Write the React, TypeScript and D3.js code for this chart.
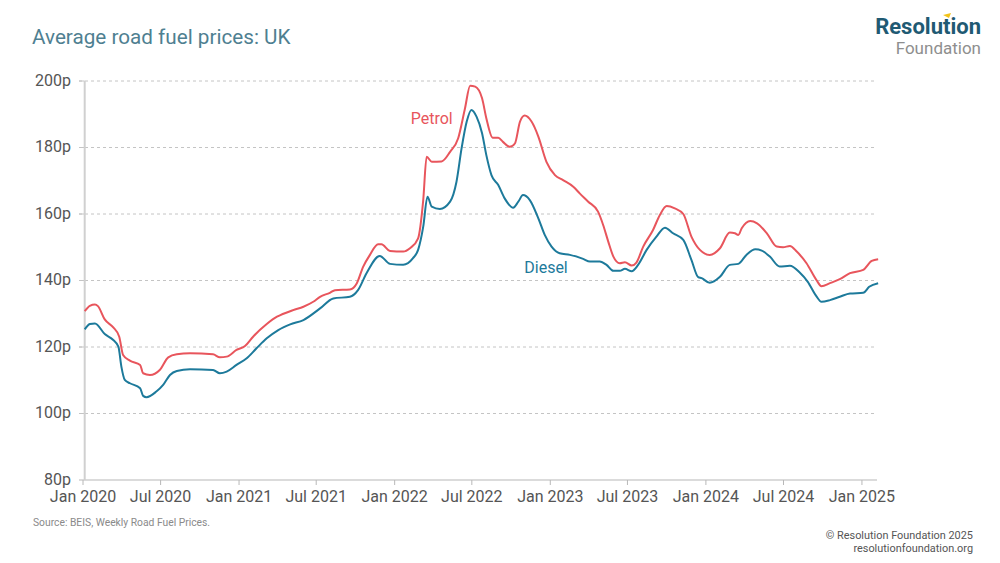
import React from "react";
import * as d3 from "d3";

const petrolData: [string, number][] = [
  ["2020-01-05",130.8],["2020-01-17",132.4],["2020-01-29",132.8],["2020-02-05",132.3],
  ["2020-02-21",128.3],["2020-03-12",125.9],["2020-03-26",123.1],["2020-04-04",117.6],
  ["2020-04-20",115.9],["2020-05-14",114.6],["2020-05-21",112.1],["2020-06-06",111.6],
  ["2020-06-29",113.1],["2020-07-19",116.9],["2020-08-08",117.8],["2020-09-08",118.1],
  ["2020-11-01",117.8],["2020-11-17",116.9],["2020-12-03",117.1],["2020-12-26",119.1],
  ["2021-01-15",120.3],["2021-02-03",123.1],["2021-03-07",126.9],["2021-03-31",129.1],
  ["2021-04-08",129.6],["2021-05-08",131.1],["2021-06-01",132.1],["2021-06-24",133.6],
  ["2021-07-10",135.1],["2021-08-02",136.3],["2021-08-14",137.1],["2021-09-18",137.3],
  ["2021-10-04",139.1],["2021-10-19",144.1],["2021-11-04",147.7],["2021-11-23",150.9],
  ["2021-12-01",150.9],["2021-12-21",148.9],["2022-01-21",148.7],["2022-02-06",149.7],
  ["2022-02-25",152.7],["2022-03-09",164.2],["2022-03-17",177.2],["2022-03-29",175.7],
  ["2022-04-21",175.8],["2022-05-11",178.7],["2022-05-30",182.8],["2022-06-15",191.8],
  ["2022-06-27",198.6],["2022-07-09",198.3],["2022-07-25",194.8],["2022-08-04",188.8],
  ["2022-08-19",182.9],["2022-09-01",182.9],["2022-09-12",181.7],["2022-09-28",180.2],
  ["2022-10-10",181.2],["2022-10-22",187.8],["2022-11-02",189.6],["2022-11-18",187.8],
  ["2022-12-04",183.3],["2022-12-23",175.7],["2023-01-12",171.7],["2023-01-31",170.2],
  ["2023-02-24",168.2],["2023-03-11",166.2],["2023-03-31",163.7],["2023-04-23",160.7],
  ["2023-05-05",156.7],["2023-05-17",151.7],["2023-05-29",147.2],["2023-06-13",145.2],
  ["2023-06-25",145.5],["2023-07-11",144.5],["2023-07-22",145.4],["2023-08-07",150.2],
  ["2023-08-30",155.2],["2023-09-15",159.7],["2023-10-01",162.4],["2023-10-20",161.7],
  ["2023-11-09",160.0],["2023-11-28",153.2],["2023-12-18",149.2],["2024-01-10",147.7],
  ["2024-02-03",149.7],["2024-02-26",154.4],["2024-03-09",154.2],["2024-03-17",153.7],
  ["2024-03-25",155.7],["2024-04-14",157.9],["2024-04-30",157.2],["2024-05-23",154.2],
  ["2024-06-15",150.2],["2024-06-30",150.0],["2024-07-16",150.4],["2024-08-01",148.7],
  ["2024-08-24",145.2],["2024-09-16",140.2],["2024-09-28",138.3],["2024-10-18",139.2],
  ["2024-11-10",140.4],["2024-12-04",142.2],["2025-01-04",143.2],["2025-01-24",145.9],
  ["2025-02-08",146.4],
];

const dieselData: [string, number][] = [
  ["2020-01-05",125.3],["2020-01-17",126.9],["2020-01-29",127.1],["2020-02-21",123.9],
  ["2020-03-12",122.1],["2020-03-24",120.1],["2020-03-31",114.1],["2020-04-08",110.1],
  ["2020-04-20",109.1],["2020-05-14",107.6],["2020-05-21",105.3],["2020-05-29",104.9],
  ["2020-06-21",106.6],["2020-07-07",108.6],["2020-07-23",111.6],["2020-08-08",112.8],
  ["2020-09-08",113.3],["2020-11-01",113.1],["2020-11-17",112.1],["2020-12-03",112.6],
  ["2020-12-26",114.6],["2021-01-19",116.6],["2021-02-11",119.6],["2021-03-07",122.6],
  ["2021-04-03",125.1],["2021-05-01",126.8],["2021-06-01",128.1],["2021-07-10",131.6],
  ["2021-08-10",134.6],["2021-09-18",135.1],["2021-10-07",137.1],["2021-10-27",142.2],
  ["2021-11-27",147.4],["2021-12-21",145.0],["2022-01-21",144.7],["2022-02-13",146.7],
  ["2022-02-25",149.2],["2022-03-09",156.2],["2022-03-19",165.2],["2022-03-29",162.2],
  ["2022-04-17",161.5],["2022-05-11",163.7],["2022-05-26",169.7],["2022-06-07",179.8],
  ["2022-06-19",187.8],["2022-06-30",191.3],["2022-07-12",189.3],["2022-07-25",184.3],
  ["2022-08-04",177.7],["2022-08-16",171.7],["2022-09-01",168.7],["2022-09-16",164.7],
  ["2022-10-06",161.9],["2022-10-18",163.7],["2022-10-29",165.7],["2022-11-14",164.2],
  ["2022-12-04",158.7],["2022-12-19",153.7],["2023-01-04",150.2],["2023-01-23",148.2],
  ["2023-02-16",147.7],["2023-03-19",146.5],["2023-04-04",145.7],["2023-04-27",145.7],
  ["2023-05-13",144.7],["2023-05-29",142.9],["2023-06-13",142.9],["2023-06-25",143.5],
  ["2023-07-11",142.8],["2023-07-26",144.7],["2023-08-15",149.2],["2023-09-07",153.2],
  ["2023-09-27",155.9],["2023-10-16",154.2],["2023-11-09",152.2],["2023-11-28",146.2],
  ["2023-12-14",141.0],["2023-12-22",140.7],["2024-01-10",139.3],["2024-02-03",141.1],
  ["2024-02-26",144.7],["2024-03-17",145.0],["2024-04-05",147.7],["2024-04-26",149.4],
  ["2024-05-11",149.0],["2024-05-30",147.2],["2024-06-22",144.2],["2024-07-16",144.4],
  ["2024-08-08",142.4],["2024-08-27",139.6],["2024-09-16",135.3],["2024-09-28",133.6],
  ["2024-10-18",134.1],["2024-11-10",135.1],["2024-12-04",136.1],["2025-01-04",136.3],
  ["2025-01-18",138.1],["2025-02-08",139.2],
];

const yTicks = [80, 100, 120, 140, 160, 180, 200];
const xTickDates = [
  "2020-01-01","2020-07-01","2021-01-01","2021-07-01","2022-01-01","2022-07-01",
  "2023-01-01","2023-07-01","2024-01-01","2024-07-01","2025-01-01",
];

const PETROL = "#e8555c";
const DIESEL = "#1d7a9b";

const seriesLabels: { name: string; date: string; value: number; color: string }[] = [
  { name: "Petrol", date: "2022-03-29", value: 188.9, color: PETROL },
  { name: "Diesel", date: "2022-12-22", value: 143.8, color: DIESEL },
];

const title = "Average road fuel prices: UK";
const sourceText = "Source: BEIS, Weekly Road Fuel Prices.";

const FONT = "Roboto, 'Noto Sans', sans-serif";

export default function App() {
  const parse = d3.utcParse("%Y-%m-%d");
  const x = d3
    .scaleUtc()
    .domain([parse("2020-01-01")!, parse("2025-02-10")!])
    .range([83, 879]);
  const y = d3.scaleLinear().domain([80, 200]).range([480, 81]);

  const line = d3
    .line<[string, number]>()
    .x((d) => x(parse(d[0])!))
    .y((d) => y(d[1]))
    .curve(d3.curveMonotoneX);

  const fmt = d3.utcFormat("%b %Y");
  const axisX = x(parse(petrolData[0][0])!);

  return (
    <svg
      width={1000}
      height={563}
      style={{ position: "fixed", left: 0, top: 0, background: "#fff" }}
      fontFamily={FONT}
    >
      <rect width={1000} height={563} fill="#fff" />
      {/* title */}
      <text x={32} y={44} fontSize={20.7} fill="#4f7f91">
        {title}
      </text>
      {/* logo */}
      <text x={981} y={34} textAnchor="end" fontSize={22} fontWeight={700} fill="#1f5a73">
        Resolution
      </text>
      <path d="M943,15 L951,13 L949,18 Z" fill="#f2c318" />
      <text x={981} y={54} textAnchor="end" fontSize={17} fill="#8e8e8e">
        Foundation
      </text>

      {/* gridlines */}
      {yTicks.map((t) => (
        <g key={t}>
          {t > 80 && (
            <line
              x1={79}
              x2={877}
              y1={y(t)}
              y2={y(t)}
              stroke="#c4c4c4"
              strokeWidth={1}
              strokeDasharray="3,3"
            />
          )}
          {t > 80 && <line x1={79} x2={axisX} y1={y(t)} y2={y(t)} stroke="#c4c4c4" />}
          <text
            x={71}
            y={y(t) - 1}
            dy="0.35em"
            textAnchor="end"
            fontSize={16}
            fill="#555"
          >
            {`${t}p`}
          </text>
        </g>
      ))}
      {/* x axis */}
      <line x1={79} x2={877} y1={y(80)} y2={y(80)} stroke="#b8b8b8" strokeWidth={1.2} />
      <line x1={axisX} x2={axisX} y1={y(200)} y2={y(80)} stroke="#d0d0d0" strokeWidth={2} />
      {xTickDates.map((s) => {
        const d = parse(s)!;
        return (
          <g key={s}>
            <line x1={x(d)} x2={x(d)} y1={y(80)} y2={y(80) + 5} stroke="#b8b8b8" />
            <text x={x(d)} y={y(80) + 22} textAnchor="middle" fontSize={16} fill="#555">
              {fmt(d)}
            </text>
          </g>
        );
      })}

      {/* lines */}
      <path d={line(dieselData) || ""} fill="none" stroke={DIESEL} strokeWidth={2} />
      <path d={line(petrolData) || ""} fill="none" stroke={PETROL} strokeWidth={2} />

      {seriesLabels.map((l) => (
        <text
          key={l.name}
          x={x(parse(l.date)!)}
          y={y(l.value)}
          dy="0.35em"
          textAnchor="middle"
          fontSize={16}
          fill={l.color}
        >
          {l.name}
        </text>
      ))}

      {/* footer */}
      <text x={33} y={526} fontSize={10.3} fill="#8a8a8a">
        {sourceText}
      </text>
      <text x={973} y={539} textAnchor="end" fontSize={10.9} fill="#555">
        © Resolution Foundation 2025
      </text>
      <text x={973} y={552} textAnchor="end" fontSize={10.9} fill="#555">
        resolutionfoundation.org
      </text>
    </svg>
  );
}
